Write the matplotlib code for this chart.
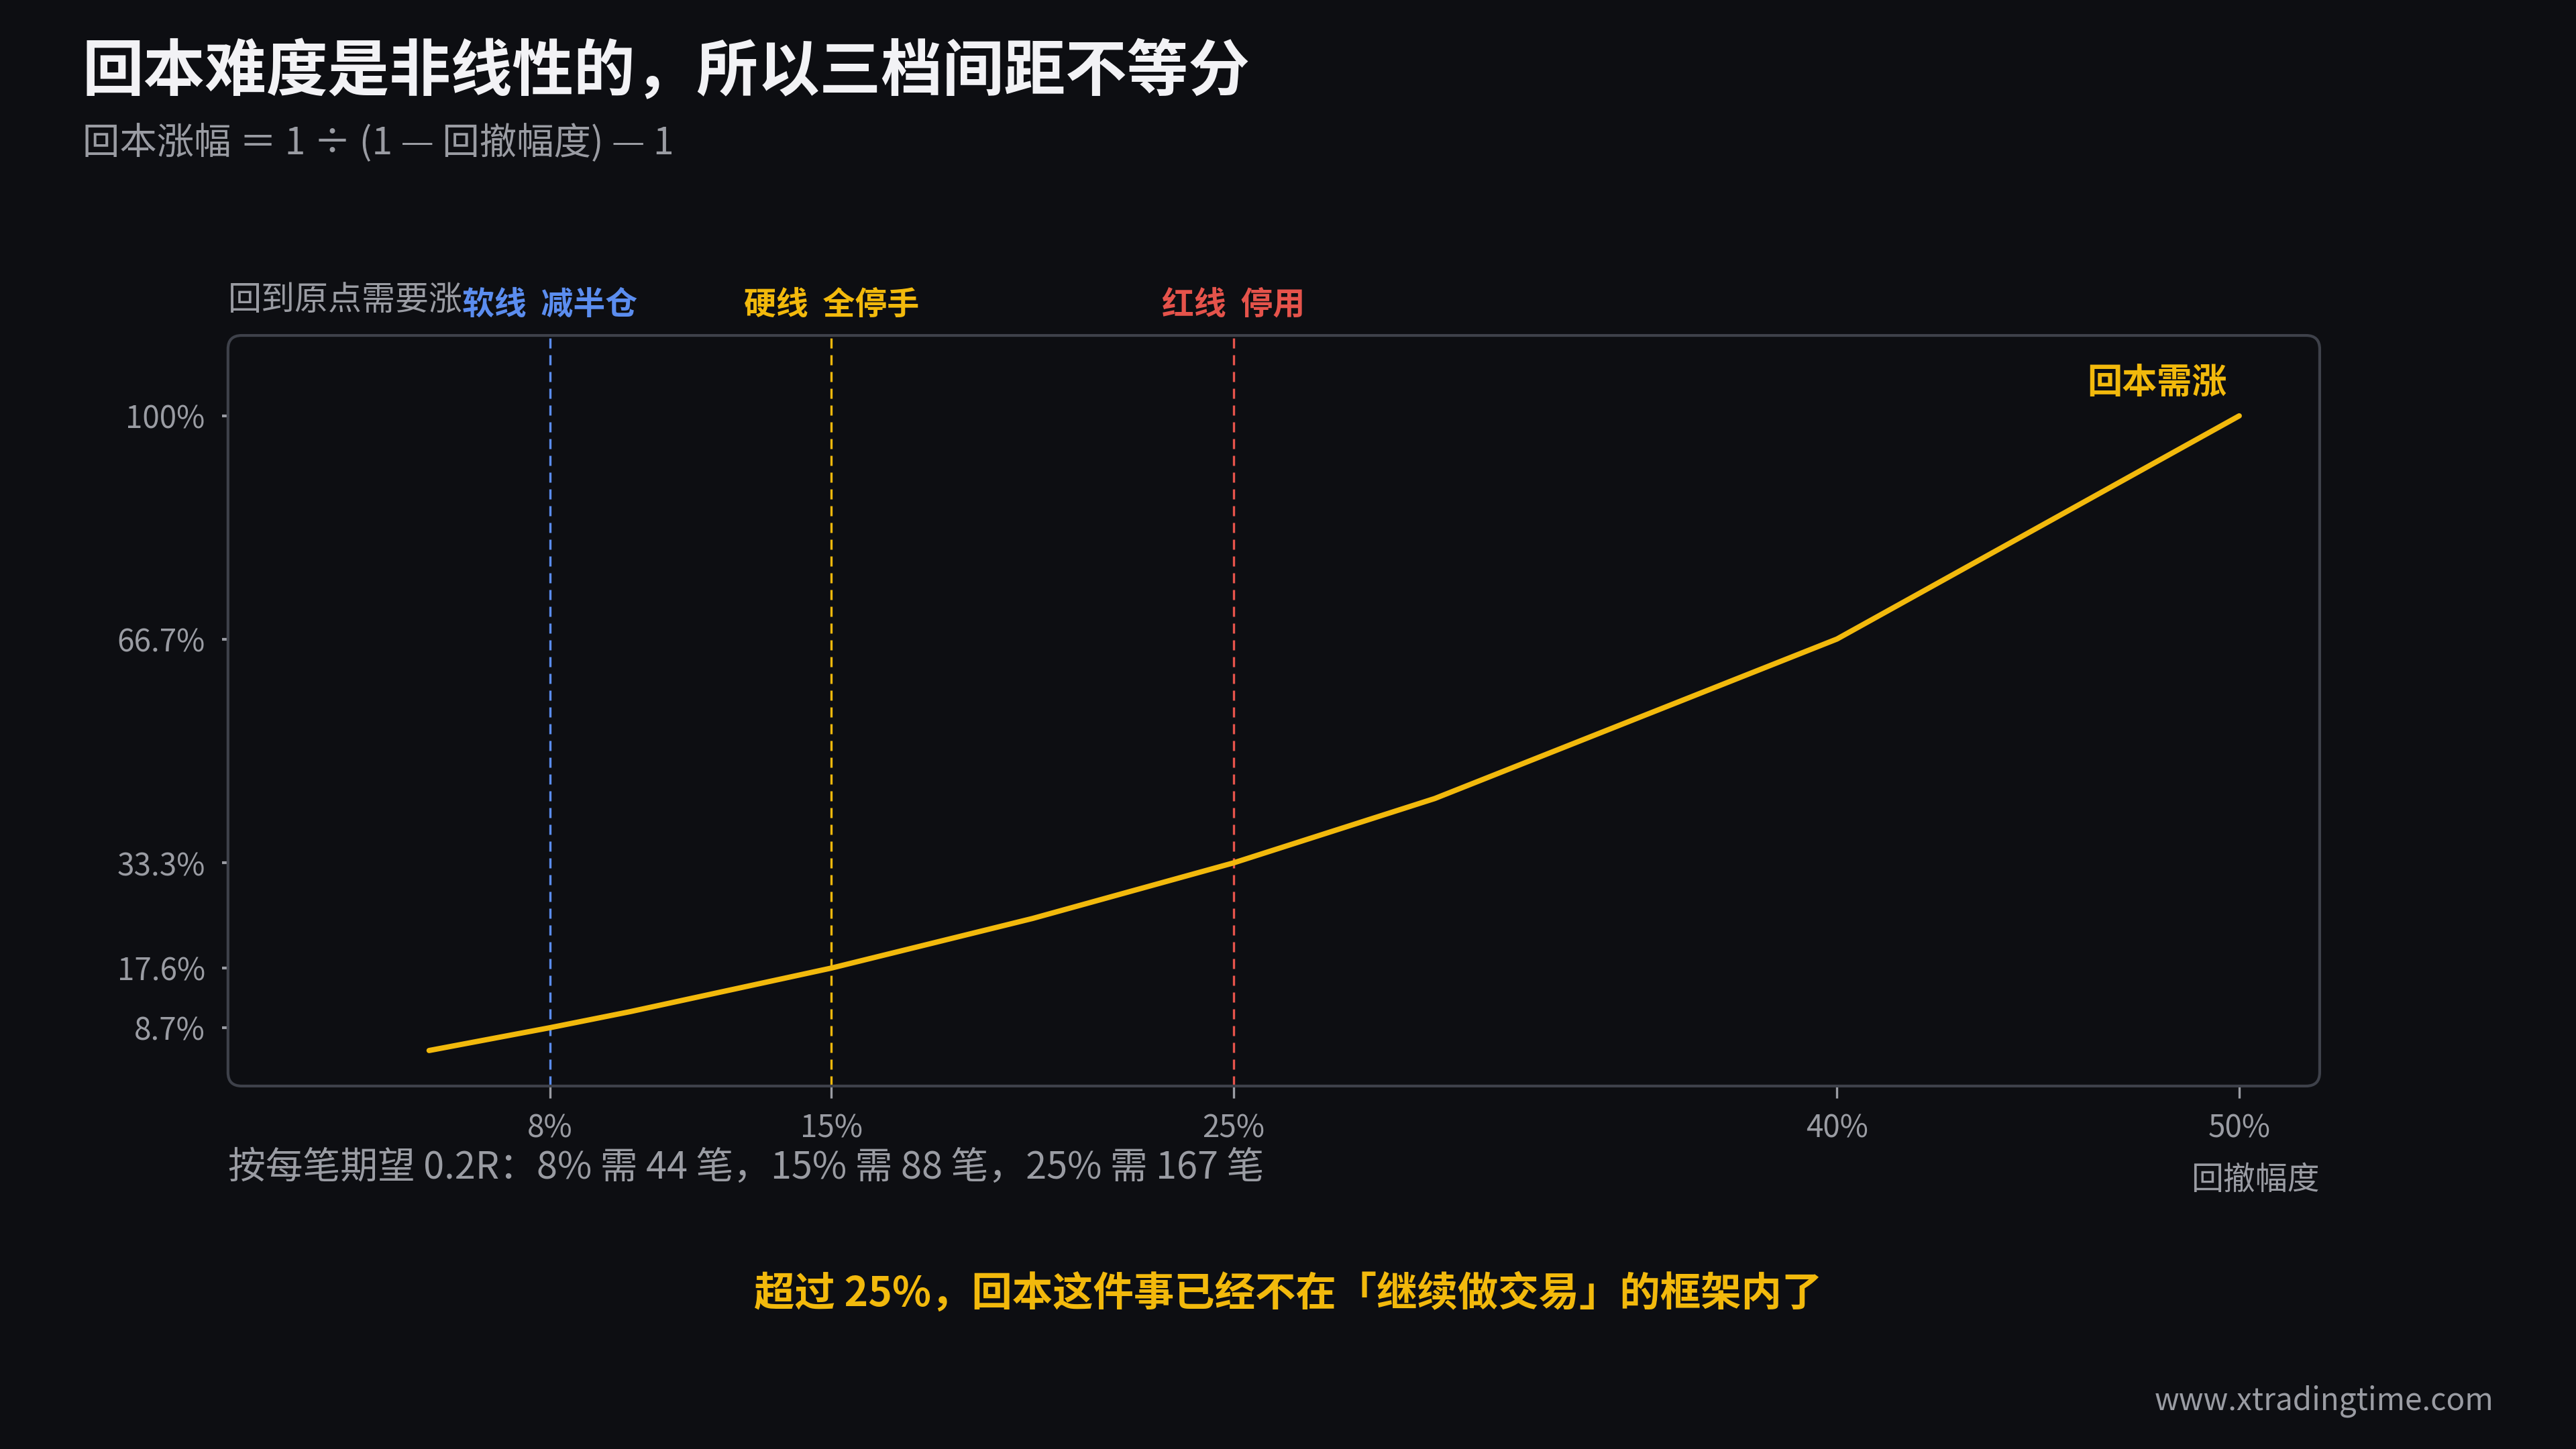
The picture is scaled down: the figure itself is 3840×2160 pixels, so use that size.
import matplotlib
matplotlib.use("Agg")
from matplotlib import pyplot as plt
from matplotlib.patches import FancyBboxPatch

plt.rcParams['font.family'] = ['Noto Sans CJK SC', 'DejaVu Sans']

# data
drawdown = [5, 8, 10, 15, 20, 25, 30, 40, 50]
recovery = [5.3, 8.7, 11.1, 17.6, 25.0, 33.3, 42.9, 66.7, 100.0]

xticks = [8, 15, 25, 40, 50]
xtick_labels = ["8%", "15%", "25%", "40%", "50%"]
yticks = [8.7, 17.6, 33.3, 66.7, 100]
ytick_labels = ["8.7%", "17.6%", "33.3%", "66.7%", "100%"]

line_x = [8, 15, 25]
line_names = ["软线  减半仓", "硬线  全停手", "红线  停用"]

BG = "#0d0e12"
YELLOW = "#f2b90c"
BLUE = "#5b8def"
RED = "#e5534b"
GRAY = "#9a9ca3"
FRAME = "#3e414a"
line_colors = [BLUE, YELLOW, RED]

fig = plt.figure(figsize=(12.8, 7.2), dpi=300, facecolor=BG)
ax = fig.add_axes([0.0885, 0.2505, 0.812, 0.518])
ax.set_facecolor(BG)
ax.patch.set_alpha(0)

ax.plot(drawdown, recovery, color=YELLOW, lw=1.9, solid_capstyle="round", zorder=5)

for xv, name, c in zip(line_x, line_names, line_colors):
    ax.axvline(xv, color=c, lw=0.8, dashes=(4.5, 3.0), zorder=3)
    ax.text(xv, 1.041, name, transform=ax.get_xaxis_transform(), ha="center", va="center",
            color=c, fontsize=11.5, fontweight="bold")

ax.text(0, 1.046, "回到原点需要涨", transform=ax.transAxes, ha="left", va="center",
        color=GRAY, fontsize=12)
ax.text(47.95, 104.9, "回本需涨", ha="center", va="center", color=YELLOW,
        fontsize=12.5, fontweight="bold")

ax.set_xlim(0, 52)
ax.set_ylim(0, 112)
ax.set_xticks(xticks)
ax.set_xticklabels(xtick_labels)
ax.set_yticks(yticks)
ax.set_yticklabels(ytick_labels)
ax.tick_params(axis="x", colors=GRAY, labelsize=11, length=4.4, width=0.8, pad=5)
ax.tick_params(axis="y", colors=GRAY, labelsize=11, length=2.2, width=1.0, pad=6)
for s in ax.spines.values():
    s.set_visible(False)

# rounded frame around the plot area
W = 0.812 * 3840
H = 0.518 * 2160
frame = FancyBboxPatch((0, 0), 1, 1, boxstyle="round,pad=0,rounding_size=0.0065",
                       mutation_aspect=W / H, transform=ax.transAxes, fill=False,
                       edgecolor=FRAME, lw=1.0, clip_on=False, zorder=4)
ax.add_patch(frame)

ax.text(1, -0.125, "回撤幅度", transform=ax.transAxes, ha="right", va="center",
        color=GRAY, fontsize=11.5)

fig.text(0.032, 0.95, "回本难度是非线性的，所以三档间距不等分", ha="left", va="center",
         color="#f2f2f5", fontsize=22, fontweight="bold")
fig.text(0.032, 0.901, "回本涨幅 ＝ 1 ÷ (1 — 回撤幅度) — 1", ha="left", va="center",
         color=GRAY, fontsize=13.3)
fig.text(0.0885, 0.194, "按每笔期望 0.2R：8% 需 44 笔，15% 需 88 笔，25% 需 167 笔",
         ha="left", va="center", color=GRAY, fontsize=13.4)
fig.text(0.5, 0.107, "超过 25%，回本这件事已经不在「继续做交易」的框架内了", ha="center",
         va="center", color=YELLOW, fontsize=14.5, fontweight="bold")
fig.text(0.968, 0.033, "www.xtradingtime.com", ha="right", va="center", color=GRAY,
         fontsize=11)

fig.savefig("out.png", dpi=300, facecolor=BG)
